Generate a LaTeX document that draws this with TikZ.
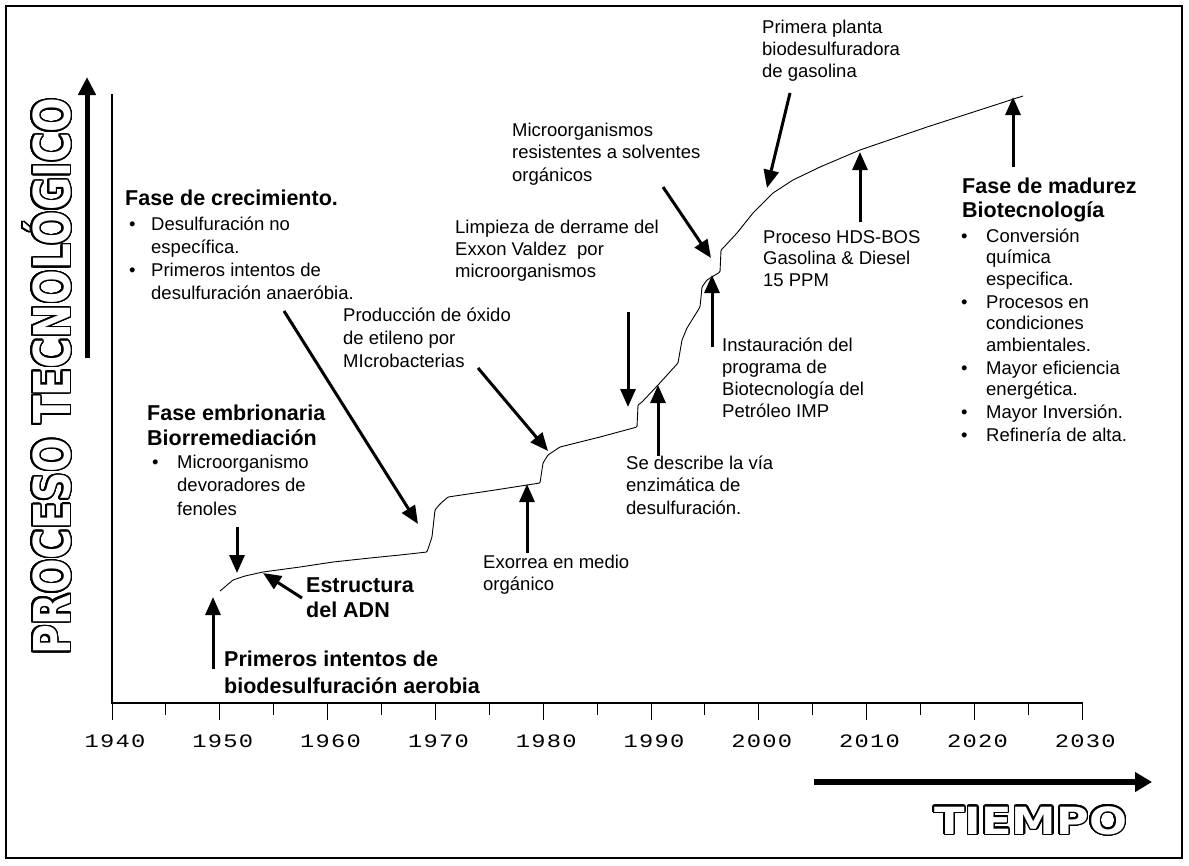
\documentclass[tikz,border=0pt]{standalone}
\usepackage{fontspec}
\setmainfont{Liberation Sans}
\newfontfamily\yrfont{Liberation Mono}
\newfontfamily\bigfont{DejaVu Sans}
\usepackage{contour}
\contourlength{1.1pt}
\contournumber{32}
\usetikzlibrary{arrows.meta}
\newcommand{\fl}{\rule{0pt}{15pt}}
\newcommand{\fh}{\rule{0pt}{17pt}}
\newcommand{\bitem}[3]{\makebox[#1][l]{\hspace{#2}\textbullet}#3}
\newcommand{\bcont}[2]{\hspace*{#1}#2}
\newcommand{\dg}[1]{\makebox[15.5pt]{\scalebox{1.25}[1]{#1}}}
\def\yrsplit#1#2#3#4{\dg{#1}\dg{#2}\dg{#3}\dg{#4}}
\tikzset{
  lbl/.style={anchor=north west, inner sep=0pt, align=left, font=\fontsize{18.5}{22}\selectfont},
  hd/.style={anchor=north west, inner sep=0pt, align=left, font=\fontsize{21.5}{24.5}\selectfont\bfseries},
  ev/.style={line width=3pt, -{Triangle[length=18pt,width=15pt]}},
  bigarrow/.style={line width=5pt, -{Triangle[length=18pt,width=17pt]}},
  frameline/.style={line width=2pt},
  axisline/.style={line width=1.4pt},
  tickline/.style={line width=1pt},
  curveline/.style={line width=0.9pt, rounded corners=1pt},
  yr/.style={inner sep=0pt, anchor=center, font=\yrfont\fontsize{19}{19}\selectfont},
  outlined/.style={inner sep=0pt}
}
\begin{document}
\begin{tikzpicture}[x=1pt,y=-1pt]
\useasboundingbox (0,0) rectangle (1189,865);
\draw[frameline] (6,6) rectangle (1182,858);

% axes
\coordinate (O) at (112,703);
\coordinate (Ytop) at (112,94);
\coordinate (Xend) at (1083,703);
\draw[axisline] (Ytop) -- (O) -- (Xend);
\foreach \i in {0,...,18}{
  \pgfmathsetmacro\xx{112+\i*53.9}
  \ifodd\i
    \draw[tickline] (\xx,703) -- (\xx,715);
  \else
    \draw[tickline] (\xx,703) -- (\xx,720);
  \fi
}
\foreach \i in {0,...,9}{
  \pgfmathsetmacro\xx{115+\i*107.8}
  \pgfmathtruncatemacro\yy{1940+10*\i}
  \node[yr] (yr\i) at (\xx,741) {\expandafter\yrsplit\yy};
}

% axis titles
\coordinate (ya0) at (87,358);
\coordinate (ya1) at (87,77);
\draw[bigarrow] (ya0) -- (ya1);
\node[outlined, anchor=base west, rotate=90] (ylab) at (70,655)
  {\scalebox{1.354}[1.69]{\bigfont\bfseries\fontsize{30}{30}\selectfont\textcolor{white}{\contour{black}{PROCESO TECNOLÓGICO}}}};
\coordinate (xa0) at (814,782);
\coordinate (xa1) at (1152,782);
\draw[bigarrow, line width=6pt, -{Triangle[length=17pt,width=19pt]}] (xa0) -- (xa1);
\node[outlined, anchor=base west] (xlab) at (934,834)
  {\scalebox{1.49}[1.25]{\bigfont\bfseries\fontsize{30}{30}\selectfont\textcolor{white}{\contour{black}{TIEMPO}}}};

% curve
\draw[curveline] (220,591) -- (226,586) -- (233,580) -- (245,576) -- (263,572) -- (300,567)
  -- (333,562) -- (370,558) -- (400,555) -- (427,552) -- (432,537) -- (435,510) -- (440,504)
  -- (448,497) -- (495,490) -- (540,483) -- (543,463) -- (548,455) -- (560,447) -- (600,437)
  -- (637,427) -- (638,405) -- (642,402) -- (658,385) -- (678,363) -- (682,340) -- (687,328)
  -- (700,307) -- (702,287) -- (707,280) -- (720,272) -- (721,250) -- (724,247) -- (737,233)
  -- (753,213) -- (773,193) -- (793,180) -- (820,167) -- (860,150) -- (927,127) -- (1023,96);

% labels
\node[hd, font=\fontsize{21.5}{27}\selectfont\bfseries] (primeros) at (224,649.5)
  {\fh Primeros intentos de\\biodesulfuración aerobia};
\node[hd, font=\fontsize{21.5}{24.5}\selectfont\bfseries] (estructura) at (306,575.5)
  {\fh Estructura\\del ADN};
\node[hd, font=\fontsize{21.5}{25}\selectfont\bfseries] (embrio) at (147,403.5)
  {\fh Fase embrionaria\\Biorremediación};
\node[lbl, font=\fontsize{18.5}{23.5}\selectfont] (embriolist) at (147,453)
  {\fl\bitem{30pt}{5pt}{Microorganismo}\\\bcont{30pt}{devoradores de}\\\bcont{30pt}{fenoles}};
\node[hd] (crec) at (125,188.5) {\fh Fase de crecimiento.};
\node[lbl, font=\fontsize{18.5}{23}\selectfont] (creclist) at (127,215)
  {\fl\bitem{24pt}{2pt}{Desulfuración no}\\\bcont{24pt}{específica.}\\
   \bitem{24pt}{2pt}{Primeros intentos de}\\\bcont{24pt}{desulfuración anaeróbia.}};
\node[lbl, font=\fontsize{18.5}{23}\selectfont] (prod) at (343,306) {\fl Producción de óxido\\de etileno por\\MIcrobacterias};
\node[lbl] (exorrea) at (483,553) {\fl Exorrea en medio\\orgánico};
\node[lbl] (limpieza) at (455,218) {\fl Limpieza de derrame del\\Exxon Valdez~ por\\microorganismos};
\node[lbl, font=\fontsize{18.5}{22.5}\selectfont] (describe) at (626,454) {\fl Se describe la vía\\enzimática de\\desulfuración.};
\node[lbl] (instaur) at (722,336) {\fl Instauración del\\programa de\\Biotecnología del\\Petróleo IMP};
\node[lbl, font=\fontsize{18.5}{22.5}\selectfont] (micro) at (512,121) {\fl Microorganismos\\resistentes a solventes\\orgánicos};
\node[lbl] (planta) at (762,18) {\fl Primera planta\\biodesulfuradora\\de gasolina};
\node[lbl, font=\fontsize{18.5}{21.5}\selectfont] (hds) at (763,228) {\fl Proceso HDS-BOS\\Gasolina \& Diesel\\15 PPM};
\node[hd, font=\fontsize{21.5}{24}\selectfont\bfseries] (madurez) at (962,176.5)
  {\fh Fase de madurez\\Biotecnología};
\node[lbl, font=\fontsize{18.5}{21.5}\selectfont] (madlist) at (960,227)
  {\fl\bitem{26pt}{1pt}{Conversión}\\\bcont{26pt}{química}\\\bcont{26pt}{especifica.}\\[1.5pt]
   \bitem{26pt}{1pt}{Procesos en}\\\bcont{26pt}{condiciones}\\\bcont{26pt}{ambientales.}\\[1.5pt]
   \bitem{26pt}{1pt}{Mayor eficiencia}\\\bcont{26pt}{energética.}\\[1.5pt]
   \bitem{26pt}{1pt}{Mayor Inversión.}\\[1.5pt]
   \bitem{26pt}{1pt}{Refinería de alta.}};

% arrow end points
\coordinate (pA) at (213,669);   \coordinate (pB) at (213,597);
\coordinate (fA) at (237,527);   \coordinate (fB) at (237,573);
\coordinate (eA) at (302,598);   \coordinate (eB) at (263,573);
\coordinate (cA) at (284,311);   \coordinate (cB) at (418,524);
\coordinate (prA) at (478,368);  \coordinate (prB) at (548,451);
\coordinate (exA) at (527,553);  \coordinate (exB) at (527,484);
\coordinate (lA) at (628,312);   \coordinate (lB) at (628,407);
\coordinate (dA) at (658,456);   \coordinate (dB) at (658,385);
\coordinate (iA) at (712,347);   \coordinate (iB) at (712,275);
\coordinate (mA) at (663,187);   \coordinate (mB) at (711,258);
\coordinate (plA) at (790,93);   \coordinate (plB) at (767,188);
\coordinate (hA) at (860,222);   \coordinate (hB) at (860,152);
\coordinate (zA) at (1013,167);  \coordinate (zB) at (1013,97);

\draw[ev] (pA) -- (pB);
\draw[ev] (fA) -- (fB);
\draw[ev] (eA) -- (eB);
\draw[ev] (cA) -- (cB);
\draw[ev] (prA) -- (prB);
\draw[ev] (exA) -- (exB);
\draw[ev] (lA) -- (lB);
\draw[ev] (dA) -- (dB);
\draw[ev] (iA) -- (iB);
\draw[ev] (mA) -- (mB);
\draw[ev] (plA) -- (plB);
\draw[ev] (hA) -- (hB);
\draw[ev] (zA) -- (zB);
\end{tikzpicture}
\end{document}
